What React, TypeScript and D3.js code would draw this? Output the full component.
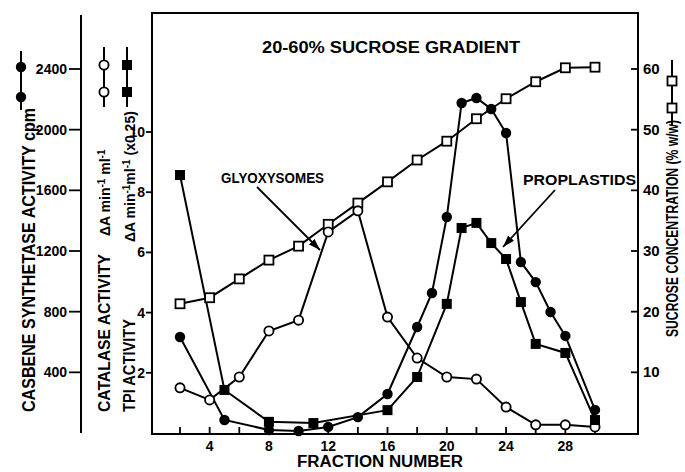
import React from 'react';
import * as d3 from 'd3';

const casbeneFractions = [2, 5, 8, 10, 12, 14, 16, 18, 19, 20, 21, 22, 23, 24, 25, 26, 27, 28, 30];
const casbeneCpm = [633, 86, 20, 13, 40, 105, 257, 699, 923, 1424, 2176, 2209, 2136, 1978, 1127, 995, 798, 640, 152];
const catalaseFractions = [2, 4, 6, 8, 10, 12, 14, 16, 18, 20, 22, 24, 26, 28, 30];
const catalaseActivity = [1.5, 1.1, 1.86, 3.39, 3.75, 6.68, 7.38, 3.85, 2.49, 1.86, 1.79, 0.86, 0.27, 0.27, 0.2];
const tpiFractions = [2, 5, 8, 11, 16, 18, 20, 21, 22, 23, 24, 25, 26, 28, 30];
const tpiActivity = [8.57, 1.43, 0.37, 0.33, 0.76, 1.86, 4.29, 6.81, 6.98, 6.31, 5.78, 4.35, 2.96, 2.66, 0.43];
const sucroseFractions = [2, 4, 6, 8, 10, 12, 14, 16, 18, 20, 22, 24, 26, 28, 30];
const sucrosePercent = [21.3, 22.3, 25.4, 28.5, 30.8, 34.4, 37.9, 41.4, 45.0, 48.1, 51.8, 55.1, 57.9, 60.2, 60.3];

const xTicks = d3.range(2, 31, 2);
const xTickLabels = [4, 8, 12, 16, 20, 24, 28];
const activityTicks = [2, 4, 6, 8, 10];
const casbeneTicks = [400, 800, 1200, 1600, 2000, 2400];
const sucroseTicks = [10, 20, 30, 40, 50, 60];

const FONT = '"Liberation Sans", Arial, Helvetica, sans-serif';

export default function App() {
  const x = d3.scaleLinear().domain([2, 30]).range([180, 595]);
  const yAct = d3.scaleLinear().domain([0, 10]).range([433, 132]);
  const yCas = d3.scaleLinear().domain([0, 2400]).range([433, 69]);
  const ySuc = d3.scaleLinear().domain([0, 60]).range([433, 69]);

  const box = { left: 152, right: 638, top: 13, bottom: 434 };

  const mk = (fr: number[], vals: number[], ys: d3.ScaleLinear<number, number>) =>
    fr.map((f, i) => [x(f), ys(vals[i])] as [number, number]);
  const line = d3.line<[number, number]>();

  const sucPts = mk(sucroseFractions, sucrosePercent, ySuc);
  const catPts = mk(catalaseFractions, catalaseActivity, yAct);
  const tpiPts = mk(tpiFractions, tpiActivity, yAct);
  const casPts = mk(casbeneFractions, casbeneCpm, yCas);

  const openSquare = (cx: number, cy: number, k: string) => (
    <rect key={k} x={cx - 4.5} y={cy - 4.5} width={9} height={9} fill="#fff" stroke="#000" strokeWidth={1.8} />
  );
  const filledSquare = (cx: number, cy: number, k: string) => (
    <rect key={k} x={cx - 5} y={cy - 5} width={10} height={10} fill="#000" />
  );
  const openCircle = (cx: number, cy: number, k: string) => (
    <circle key={k} cx={cx} cy={cy} r={4.6} fill="#fff" stroke="#000" strokeWidth={1.8} />
  );
  const filledCircle = (cx: number, cy: number, k: string) => (
    <circle key={k} cx={cx} cy={cy} r={5.2} fill="#000" />
  );

  const lineStyle = { fill: 'none', stroke: '#000', strokeWidth: 2 };

  return (
    <svg width={685} height={472} style={{ position: 'absolute', left: 0, top: 0, background: '#fff' }} fontFamily={FONT}>
      <defs>
        <marker id="ah" viewBox="0 0 12 8" refX={12} refY={4} markerWidth={12} markerHeight={8} markerUnits="userSpaceOnUse" orient="auto">
          <path d="M0,0 L12,4 L0,8 Z" fill="#000" />
        </marker>
      </defs>
      <rect x={0} y={0} width={685} height={472} fill="#fff" />

      {/* plot box */}
      <rect x={box.left} y={box.top} width={box.right - box.left} height={box.bottom - box.top} fill="none" stroke="#000" strokeWidth={2} />

      {/* bottom ticks */}
      {xTicks.map(t => (
        <line key={'xt' + t} x1={x(t)} x2={x(t)} y1={box.bottom} y2={box.bottom - 7} stroke="#000" strokeWidth={1.8} />
      ))}
      {xTickLabels.map(t => (
        <text key={'xl' + t} x={x(t)} y={451} textAnchor="middle" fontSize={14} fontWeight="bold">{t}</text>
      ))}
      <text x={380} y={467} textAnchor="middle" fontSize={16} fontWeight="bold" textLength={166} lengthAdjust="spacingAndGlyphs">FRACTION NUMBER</text>

      {/* inner left axis: catalase / TPI */}
      {activityTicks.map(t => (
        <g key={'at' + t}>
          <line x1={box.left - 6} x2={box.left} y1={yAct(t)} y2={yAct(t)} stroke="#000" strokeWidth={1.8} />
          <text x={box.left - 7} y={yAct(t) + 5} textAnchor="end" fontSize={14} fontWeight="bold">{t}</text>
        </g>
      ))}

      {/* casbene axis */}
      <line x1={81} x2={81} y1={15} y2={433} stroke="#000" strokeWidth={2} />
      {casbeneTicks.map(t => (
        <g key={'ct' + t}>
          <line x1={69} x2={81} y1={yCas(t)} y2={yCas(t)} stroke="#000" strokeWidth={1.8} />
          <text x={67} y={yCas(t) + 5} textAnchor="end" fontSize={14} fontWeight="bold">{t}</text>
        </g>
      ))}

      {/* sucrose axis ticks (inward) */}
      {sucroseTicks.map(t => (
        <g key={'st' + t}>
          <line x1={box.right - 7} x2={box.right} y1={ySuc(t)} y2={ySuc(t)} stroke="#000" strokeWidth={1.8} />
          <text x={643} y={ySuc(t) + 5} textAnchor="start" fontSize={15} fontWeight="bold">{t}</text>
        </g>
      ))}

      {/* axis titles */}
      <text transform="translate(35,412) rotate(-90)" fontSize={18} fontWeight="bold" textLength={304} lengthAdjust="spacingAndGlyphs">CASBENE  SYNTHETASE  ACTIVITY  cpm</text>
      <text transform="translate(110,412) rotate(-90)" fontSize={17} fontWeight="bold" textLength={158} lengthAdjust="spacingAndGlyphs">CATALASE  ACTIVITY</text>
      <text transform="translate(110,236) rotate(-90)" fontSize={14} fontWeight="bold">
        <tspan>ΔA min</tspan><tspan dy={-5} fontSize={10}>-1</tspan><tspan dy={5}> ml</tspan><tspan dy={-5} fontSize={10}>-1</tspan>
      </text>
      <text transform="translate(135,412) rotate(-90)" fontSize={17} fontWeight="bold" textLength={93} lengthAdjust="spacingAndGlyphs">TPI  ACTIVITY</text>
      <text transform="translate(135,242) rotate(-90)" fontSize={14} fontWeight="bold">
        <tspan>ΔA min</tspan><tspan dy={-5} fontSize={10}>-1</tspan><tspan dy={5}>ml</tspan><tspan dy={-5} fontSize={10}>-1</tspan><tspan dy={5}> (x0.25)</tspan>
      </text>
      <text transform="translate(678,337) rotate(-90)" fontSize={17} fontWeight="bold" textLength={217} lengthAdjust="spacingAndGlyphs">SUCROSE  CONCENTRATION (% w/w)</text>

      {/* legend keys */}
      <line x1={21} x2={21} y1={51} y2={110} stroke="#000" strokeWidth={2} />
      {filledCircle(21, 67, 'lc1')}{filledCircle(21, 97, 'lc2')}
      <line x1={104} x2={104} y1={47} y2={107} stroke="#000" strokeWidth={2} />
      {openCircle(104, 65, 'lo1')}{openCircle(104, 92, 'lo2')}
      <line x1={127} x2={127} y1={47} y2={107} stroke="#000" strokeWidth={2} />
      {filledSquare(127, 65, 'ls1')}{filledSquare(127, 92, 'ls2')}
      <line x1={672} x2={672} y1={60} y2={125} stroke="#000" strokeWidth={2} />
      {openSquare(672, 81, 'lq1')}{openSquare(672, 108, 'lq2')}

      {/* title */}
      <text x={391} y={53} textAnchor="middle" fontSize={16} fontWeight="bold" textLength={258} lengthAdjust="spacingAndGlyphs">20-60% SUCROSE  GRADIENT</text>

      {/* series */}
      <path d={line(sucPts) || ''} style={lineStyle} />
      <path d={line(catPts) || ''} style={lineStyle} />
      <path d={line(tpiPts) || ''} style={lineStyle} />
      <path d={line(casPts) || ''} style={lineStyle} />
      {sucPts.map((p, i) => openSquare(p[0], p[1], 'sq' + i))}
      {catPts.map((p, i) => openCircle(p[0], p[1], 'ca' + i))}
      {tpiPts.map((p, i) => filledSquare(p[0], p[1], 'tp' + i))}
      {casPts.map((p, i) => filledCircle(p[0], p[1], 'cs' + i))}

      {/* annotations */}
      <text x={221} y={183} fontSize={14} fontWeight="bold" textLength={103} lengthAdjust="spacingAndGlyphs">GLYOXYSOMES</text>
      <line x1={257} y1={187} x2={320} y2={250} stroke="#000" strokeWidth={1.8} markerEnd="url(#ah)" />
      <text x={523} y={185} fontSize={14} fontWeight="bold" textLength={113} lengthAdjust="spacingAndGlyphs">PROPLASTIDS</text>
      <line x1={555} y1={190} x2={503} y2={247} stroke="#000" strokeWidth={1.8} markerEnd="url(#ah)" />
    </svg>
  );
}
